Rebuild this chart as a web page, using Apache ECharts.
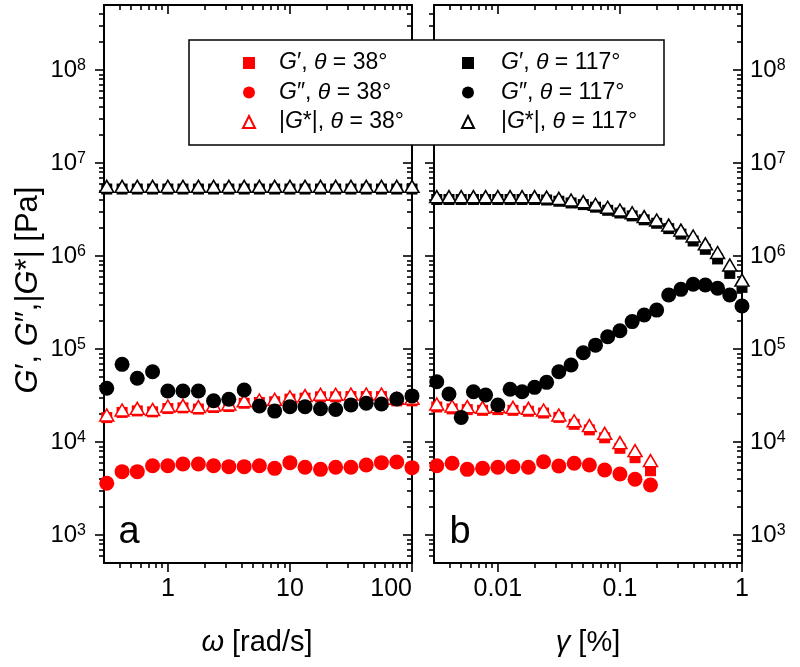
<!DOCTYPE html>
<html><head><meta charset="utf-8">
<script src="https://cdn.jsdelivr.net/npm/echarts@6/dist/echarts.min.js"></script>
<style>html,body{margin:0;padding:0;background:#fff}#c{width:800px;height:667px}</style>
</head><body><div id="c"></div>
<script>
const FONT = '"Liberation Sans", Arial, Helvetica, sans-serif';
const RED = '#ff0000', BLK = '#000000';

// ---- Panel a: frequency sweep ----
const omega = [0.316, 0.422, 0.562, 0.750, 1.0, 1.33, 1.78, 2.37, 3.16, 4.22, 5.62, 7.50, 10, 13.3, 17.8, 23.7, 31.6, 42.2, 56.2, 75.0, 100];
const gp38a  = [18300, 20800, 21600, 21100, 22900, 23300, 22600, 23500, 24100, 26100, 26600, 27100, 28900, 29600, 30600, 30600, 30800, 30800, 30800, 27700, 27700];
const gpp38a = [3600, 4800, 4800, 5560, 5560, 5800, 5800, 5560, 5430, 5430, 5560, 5210, 6000, 5350, 5080, 5350, 5350, 5660, 6000, 6100, 5300];
const gs38a  = [19500, 22100, 23000, 22400, 24400, 24800, 24000, 25000, 25600, 27800, 28300, 28800, 30700, 31500, 32600, 32600, 32800, 32800, 32800, 29500, 29500];
const gp117a  = [5.25e6, 5.25e6, 5.25e6, 5.25e6, 5.25e6, 5.25e6, 5.25e6, 5.25e6, 5.25e6, 5.25e6, 5.25e6, 5.25e6, 5.25e6, 5.25e6, 5.25e6, 5.25e6, 5.25e6, 5.25e6, 5.25e6, 5.25e6, 5.25e6];
const gpp117a = [37800, 68400, 48400, 57000, 35300, 35300, 35300, 27800, 28800, 36200, 24400, 21500, 24000, 24000, 22800, 22400, 25000, 26100, 25600, 29000, 31300];
const gs117a  = [5.6e6, 5.6e6, 5.6e6, 5.6e6, 5.6e6, 5.6e6, 5.6e6, 5.6e6, 5.6e6, 5.6e6, 5.6e6, 5.6e6, 5.6e6, 5.6e6, 5.6e6, 5.6e6, 5.6e6, 5.6e6, 5.6e6, 5.6e6, 5.6e6];

// ---- Panel b: strain sweep ----
const gamma38 = [0.00316, 0.00422, 0.00562, 0.0075, 0.01, 0.0133, 0.0178, 0.0237, 0.0316, 0.0422, 0.0562, 0.075, 0.1, 0.133, 0.178];
const gp38b  = [23800, 22700, 22300, 21900, 22300, 21900, 21400, 20500, 18400, 15500, 13500, 11100, 8550, 6780, 4910];
const gpp38b = [5560, 5900, 5080, 5210, 5350, 5430, 5350, 6140, 5520, 5900, 5660, 5000, 4530, 3970, 3450];
const gs38b  = [25600, 24400, 24000, 23600, 24000, 23600, 23000, 22100, 19500, 16900, 15000, 12400, 9840, 8080, 6300];
const gamma117 = [0.00316, 0.00398, 0.00501, 0.00631, 0.00794, 0.01, 0.0126, 0.0158, 0.02, 0.0251, 0.0316, 0.0398, 0.0501, 0.0631, 0.0794, 0.1, 0.126, 0.158, 0.2, 0.251, 0.316, 0.398, 0.501, 0.631, 0.794, 1.0];
const gp117b  = [4.05e6, 4.05e6, 4.05e6, 4.05e6, 4.05e6, 4.05e6, 4.05e6, 4.05e6, 4.05e6, 4.0e6, 3.88e6, 3.72e6, 3.57e6, 3.35e6, 3.1e6, 2.9e6, 2.7e6, 2.45e6, 2.25e6, 1.97e6, 1.72e6, 1.45e6, 1.18e6, 9.3e5, 6.5e5, 4.6e5];
const gpp117b = [44500, 32800, 18400, 34700, 32000, 25000, 36900, 34700, 38700, 43800, 57000, 67300, 91200, 110000, 135500, 157000, 197000, 232000, 262000, 381000, 438000, 497000, 488000, 450000, 381000, 290000];
const gs117b  = [4.35e6, 4.35e6, 4.35e6, 4.35e6, 4.35e6, 4.35e6, 4.35e6, 4.35e6, 4.35e6, 4.3e6, 4.17e6, 4.0e6, 3.84e6, 3.6e6, 3.34e6, 3.12e6, 2.92e6, 2.65e6, 2.44e6, 2.15e6, 1.9e6, 1.64e6, 1.35e6, 1.09e6, 8.0e5, 5.5e5];

// ---- Tick values ----
const xMajorA = [1, 10, 100];
const xMinorA = [0.4, 0.5, 0.6, 0.7, 0.8, 0.9, 2, 3, 4, 5, 6, 7, 8, 9, 20, 30, 40, 50, 60, 70, 80, 90];
const xMajorB = [0.01, 0.1, 1];
const xMinorB = [0.004, 0.005, 0.006, 0.007, 0.008, 0.009, 0.02, 0.03, 0.04, 0.05, 0.06, 0.07, 0.08, 0.09, 0.2, 0.3, 0.4, 0.5, 0.6, 0.7, 0.8, 0.9];
const yMajor = [1e3, 1e4, 1e5, 1e6, 1e7, 1e8];
const yMinor = [600, 700, 800, 900,
  2e3, 3e3, 4e3, 5e3, 6e3, 7e3, 8e3, 9e3,
  2e4, 3e4, 4e4, 5e4, 6e4, 7e4, 8e4, 9e4,
  2e5, 3e5, 4e5, 5e5, 6e5, 7e5, 8e5, 9e5,
  2e6, 3e6, 4e6, 5e6, 6e6, 7e6, 8e6, 9e6,
  2e7, 3e7, 4e7, 5e7, 6e7, 7e7, 8e7, 9e7,
  2e8, 3e8, 4e8];

const names = ['G′, θ = 38°', 'G″, θ = 38°', '|G*|, θ = 38°', 'G′, θ = 117°', 'G″, θ = 117°', '|G*|, θ = 117°'];
const richNames = {
  'G′, θ = 38°': '{i|G}′, {i|θ} = 38°',
  'G″, θ = 38°': '{i|G}″, {i|θ} = 38°',
  '|G*|, θ = 38°': '|{i|G}*|, {i|θ} = 38°',
  'G′, θ = 117°': '{i|G}′, {i|θ} = 117°',
  'G″, θ = 117°': '{i|G}″, {i|θ} = 117°',
  '|G*|, θ = 117°': '|{i|G}*|, {i|θ} = 117°'
};

const Y_MIN = 500, Y_MAX = 5e8;
const XA = [0.3, 100], XB = [0.003, 1];

function fmtX(v) {
  const e = Math.round(Math.log10(v));
  return e >= 0 ? String(Math.round(Math.pow(10, e))) : Math.pow(10, e).toFixed(-e);
}
function fmtY(v) {
  return '{b|10}{s|' + Math.round(Math.log10(v)) + '}';
}
const lineS = { color: BLK, width: 2 };

function xAx(grid, pos, ext, ticks, len, inside, labels, showLine) {
  return {
    type: 'log', logBase: 10, gridIndex: grid, position: pos, min: ext[0], max: ext[1],
    axisLine: { show: showLine, onZero: false, lineStyle: lineS },
    axisTick: { show: true, inside: inside, length: len, customValues: ticks, lineStyle: { color: BLK, width: 1.6 } },
    axisLabel: labels ? {
      show: true, customValues: labels, formatter: fmtX, margin: 14,
      fontSize: 25, fontFamily: FONT, color: BLK, alignMaxLabel: grid === 0 ? 'right' : 'center'
    } : { show: false },
    splitLine: { show: false }, minorTick: { show: false }
  };
}
function yAx(grid, pos, ticks, len, inside, labels, showLine, margin) {
  return {
    type: 'log', logBase: 10, gridIndex: grid, position: pos, min: Y_MIN, max: Y_MAX,
    axisLine: { show: showLine, onZero: false, lineStyle: lineS },
    axisTick: { show: true, inside: inside, length: len, customValues: ticks, lineStyle: { color: BLK, width: 1.6 } },
    axisLabel: labels ? {
      show: true, customValues: labels, formatter: fmtY, margin: margin,
      rich: {
        b: { fontSize: 24, lineHeight: 25, fontFamily: FONT, color: BLK },
        s: { fontSize: 16, lineHeight: 16, verticalAlign: 'top', fontFamily: FONT, color: BLK }
      }
    } : { show: false },
    splitLine: { show: false }, minorTick: { show: false }
  };
}

const xAxis = [
  xAx(0, 'bottom', XA, xMajorA, 9, false, xMajorA, true),
  xAx(0, 'bottom', XA, xMinorA, 5, false, null, false),
  xAx(0, 'top', XA, xMajorA, 9, true, null, true),
  xAx(0, 'top', XA, xMinorA, 5, true, null, false),
  xAx(1, 'bottom', XB, xMajorB, 9, false, xMajorB, true),
  xAx(1, 'bottom', XB, xMinorB, 5, false, null, false),
  xAx(1, 'top', XB, xMajorB, 9, true, null, true),
  xAx(1, 'top', XB, xMinorB, 5, true, null, false)
];
const yAxis = [
  yAx(0, 'left', yMajor, 9, false, yMajor, true, 18),
  yAx(0, 'left', yMinor, 5, false, null, false),
  yAx(0, 'right', yMajor, 9, true, null, true),
  yAx(0, 'right', yMinor, 5, true, null, false),
  yAx(1, 'left', yMajor, 9, false, null, true),
  yAx(1, 'left', yMinor, 5, false, null, false),
  yAx(1, 'right', yMajor, 9, true, yMajor, true, 8),
  yAx(1, 'right', yMinor, 5, true, null, false)
];

function zip(xs, ys) { return xs.map((x, i) => [x, ys[i]]); }
const styles = [
  { symbol: 'rect', symbolSize: 11, itemStyle: { color: RED, opacity: 1 } },
  { symbol: 'circle', symbolSize: 15, itemStyle: { color: RED, opacity: 1 } },
  { symbol: 'triangle', symbolSize: [14, 12], itemStyle: { color: '#ffffff', borderColor: RED, borderWidth: 1.5, opacity: 1 } },
  { symbol: 'rect', symbolSize: 11, itemStyle: { color: BLK, opacity: 1 } },
  { symbol: 'circle', symbolSize: 15, itemStyle: { color: BLK, opacity: 1 } },
  { symbol: 'triangle', symbolSize: [14, 12], itemStyle: { color: '#ffffff', borderColor: BLK, borderWidth: 1.5, opacity: 1 } }
];
const dataA = [zip(omega, gp38a), zip(omega, gpp38a), zip(omega, gs38a), zip(omega, gp117a), zip(omega, gpp117a), zip(omega, gs117a)];
const dataB = [zip(gamma38, gp38b), zip(gamma38, gpp38b), zip(gamma38, gs38b), zip(gamma117, gp117b), zip(gamma117, gpp117b), zip(gamma117, gs117b)];

const series = [];
for (let i = 0; i < 6; i++) {
  series.push(Object.assign({ type: 'scatter', name: names[i], xAxisIndex: 0, yAxisIndex: 0, data: dataA[i], clip: false, emphasis: { disabled: true } }, styles[i]));
}
for (let i = 0; i < 6; i++) {
  series.push(Object.assign({ type: 'scatter', name: names[i], xAxisIndex: 4, yAxisIndex: 4, data: dataB[i], clip: false, emphasis: { disabled: true } }, styles[i]));
}

function legend(items, left, pad) {
  return {
    data: items, orient: 'vertical', left: left, top: 51, padding: 0,
    itemWidth: 12, itemHeight: 12, itemGap: 5.5, selectedMode: false, z: 20,
    symbolKeepAspect: true,
    formatter: n => '{p| }' + richNames[n],
    textStyle: {
      fontSize: 23, fontFamily: FONT, color: BLK, lineHeight: 24,
      rich: {
        p: { width: pad, fontSize: 23, lineHeight: 24 },
        i: { fontSize: 23, fontFamily: FONT, color: BLK, fontStyle: 'italic', lineHeight: 24 }
      }
    }
  };
}

const chart = echarts.init(document.getElementById('c'), null, { renderer: 'canvas' });
chart.setOption({
  animation: false,
  backgroundColor: '#ffffff',
  grid: [
    { left: 104, top: 5, width: 308, height: 558 },
    { left: 434, top: 5, width: 308, height: 558 }
  ],
  xAxis: xAxis,
  yAxis: yAxis,
  legend: [legend(names.slice(0, 3), 242, 19), legend(names.slice(3), 461, 22)],
  graphic: [
    { type: 'rect', z: 10, shape: { x: 189, y: 40, width: 475, height: 105 }, style: { fill: '#ffffff', stroke: BLK, lineWidth: 1.5 } },
    { type: 'text', x: 129, y: 533, style: { text: 'a', fontSize: 38, fontFamily: FONT, fill: BLK, align: 'center', verticalAlign: 'middle' } },
    { type: 'text', x: 460, y: 533, style: { text: 'b', fontSize: 38, fontFamily: FONT, fill: BLK, align: 'center', verticalAlign: 'middle' } },
    { type: 'text', x: 257, y: 643, style: { text: '{i|ω} [rad/s]', fontSize: 29, fontFamily: FONT, fill: BLK, align: 'center', verticalAlign: 'middle',
      rich: { i: { fontSize: 29, fontFamily: FONT, fontStyle: 'italic', fill: BLK } } } },
    { type: 'text', x: 588, y: 643, style: { text: '{i|γ} [%]', fontSize: 29, fontFamily: FONT, fill: BLK, align: 'center', verticalAlign: 'middle',
      rich: { i: { fontSize: 29, fontFamily: FONT, fontStyle: 'italic', fill: BLK } } } },
    { type: 'text', x: 28, y: 290, rotation: Math.PI / 2, style: { text: '{i|G}′, {i|G}″,|{i|G}*| [Pa]', fontSize: 31, fontFamily: FONT, fill: BLK, align: 'center', verticalAlign: 'middle',
      rich: { i: { fontSize: 31, fontFamily: FONT, fontStyle: 'italic', fill: BLK } } } }
  ],
  series: series
});
</script>
</body></html>
